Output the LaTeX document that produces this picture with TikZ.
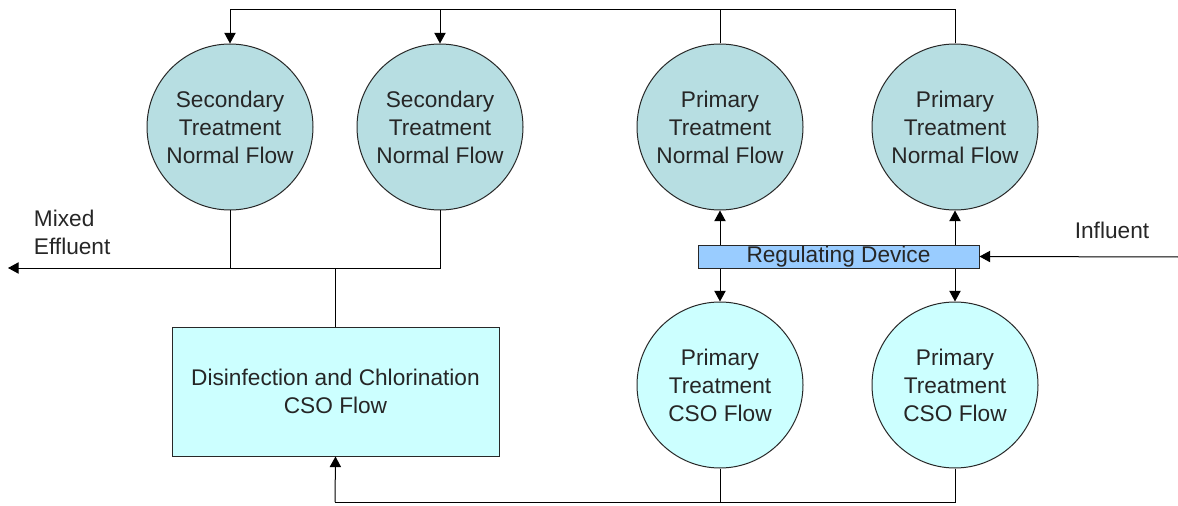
\documentclass[tikz,border=0pt]{standalone}
\usepackage{fontspec}
\setmainfont{Liberation Sans}
\usetikzlibrary{arrows.meta}

\definecolor{normalfill}{RGB}{183,222,226}
\definecolor{csofill}{RGB}{204,255,255}
\definecolor{regfill}{RGB}{153,204,255}
\definecolor{edgegray}{RGB}{40,40,40}

\tikzset{every picture/.style={line width=0.75pt}}
\tikzset{
	plant/.style={circle, draw=edgegray, minimum size=124.5pt, inner sep=0pt, align=center, text=black!85, font=\fontsize{17}{21}\selectfont},
	normalplant/.style={plant, fill=normalfill},
	csoplant/.style={plant, fill=csofill},
	flowarrow/.style={-{Triangle[length=8pt,width=8.5pt]}},
	label/.style={align=left, font=\fontsize{17}{21}\selectfont, text=black!85}
}

\begin{document}
\begin{tikzpicture}[x=0.75pt,y=0.75pt,yscale=-1,xscale=1]
	\useasboundingbox (0,0) rectangle (1178,506);

	%Shape: Circles top row
	\node [normalplant] (sec1) at (230,127) {Secondary\\Treatment\\Normal Flow};
	\node [normalplant] (sec2) at (440,127) {Secondary\\Treatment\\Normal Flow};
	\node [normalplant] (pri1) at (720,127) {Primary\\Treatment\\Normal Flow};
	\node [normalplant] (pri2) at (955,127) {Primary\\Treatment\\Normal Flow};
	%Shape: Circles bottom row
	\node [csoplant] (cso1) at (720,385) {Primary\\Treatment\\CSO Flow};
	\node [csoplant] (cso2) at (955,385) {Primary\\Treatment\\CSO Flow};

	%Shape: Rectangle [disinfection]
	\node [draw=edgegray, fill=csofill, minimum width=245.25pt, minimum height=96.75pt, inner sep=0pt, align=center, text=black!85, font=\fontsize{17}{21}\selectfont] (disinf) at (335.5,391.5) {Disinfection and Chlorination\\CSO Flow};
	%Shape: Rectangle [regulating device]
	\node [draw=edgegray, fill=regfill, minimum width=210.75pt, minimum height=17.25pt, inner sep=0pt, text=black!85, font=\fontsize{17}{21}\selectfont] (reg) at (838.5,256.5) {Regulating Device};

	%Corner points
	\coordinate (topL) at (230,10);
	\coordinate (topR) at (955,10);
	\coordinate (mixL) at (8,268);
	\coordinate (botL) at (335,502);
	\coordinate (inR) at (1178,257);

	%Top return line
	\draw (pri2.north) -- (topR) -- (topL);
	\draw [flowarrow] (topL) -- (sec1.north);
	\draw [flowarrow] (sec2.north |- topL) -- (sec2.north);
	\draw (pri1.north) -- (pri1.north |- topL);

	%Mixed effluent line
	\draw [flowarrow] (sec2.south) |- (mixL);
	\draw (sec1.south) -- (sec1.south |- mixL);
	\draw (disinf.north) -- (disinf.north |- mixL);

	%Regulating device arrows
	\draw [flowarrow] (reg.north -| pri1.south) -- (pri1.south);
	\draw [flowarrow] (reg.north -| pri2.south) -- (pri2.south);
	\draw [flowarrow] (reg.south -| cso1.north) -- (cso1.north);
	\draw [flowarrow] (reg.south -| cso2.north) -- (cso2.north);
	\draw [flowarrow] (inR) -- (reg.east);

	%Bottom CSO line
	\draw (cso2.south) |- (botL);
	\draw (cso1.south) -- (cso1.south |- botL);
	\draw [flowarrow] (botL) -- (disinf.south);

	% Text Node
	\node [label, anchor=west] (mixtxt) at (29,232) {Mixed\\Effluent};
	% Text Node
	\node [label] (intxt) at (1112,230) {Influent};

\end{tikzpicture}
\end{document}
